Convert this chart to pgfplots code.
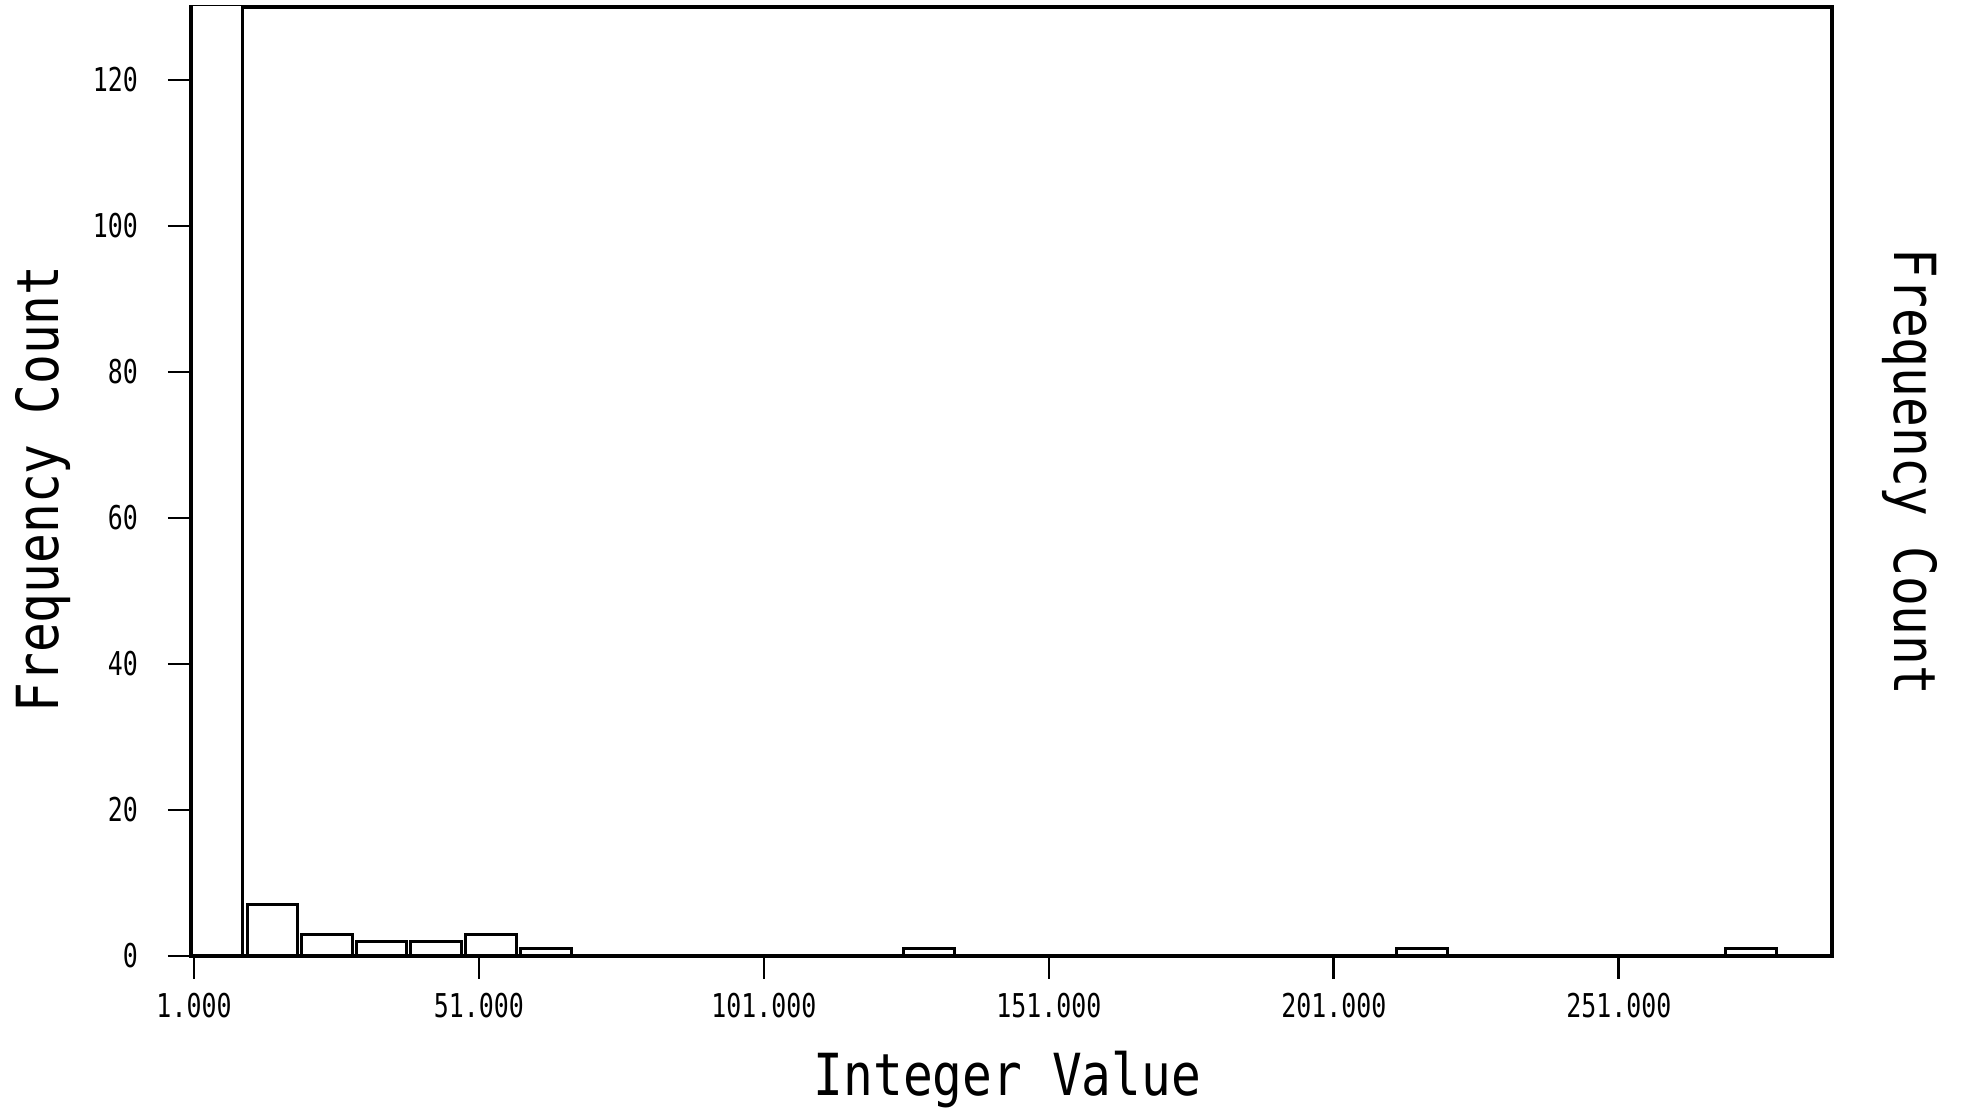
\documentclass[border=0pt]{standalone}
\usepackage{fontspec}
\usepackage{pgfplots}
\pgfplotsset{compat=1.18}
\newfontfamily\labfont[FakeStretch=0.853]{DejaVu Sans Mono}
\newfontfamily\tickfont[FakeStretch=0.76]{DejaVu Sans Mono}
\begin{document}
\begin{tikzpicture}
\useasboundingbox (-47.75pt,-38.5pt) rectangle (442.5pt,239pt);
\begin{axis}[
  at={(0,0)}, anchor=south west,
  scale only axis, width=410.25pt, height=237.25pt,
  xmin=0.47, xmax=288.4, ymin=0, ymax=130,
  axis line style={line width=0.8pt, black},
  xtick={1,51,101,151,201,251},
  xticklabels={1.000,51.000,101.000,151.000,201.000,251.000},
  ytick={0,20,40,60,80,100,120},
  yticklabels={0,20,40,60,80,100,120},
  tick align=outside, xtick pos=bottom, ytick pos=left,
  major tick length=5.75pt,
  tick style={line width=0.7pt, black},
  tick label style={font=\tickfont\fontsize{8.2}{9}\selectfont},
  yticklabel style={xshift=-4pt},
  ybar, bar width=8.9, bar shift=0pt,
]
\addplot[ybar, fill=white, draw=black, line width=0.75pt] coordinates {
(5.04,300) (14.75,7) (24.30,3) (33.90,2) (43.50,2) (53.11,3) (62.72,1)
(130.0,1) (216.5,1) (274.2,1)
};
\end{axis}
\node[rotate=90, anchor=north, inner sep=0pt, font=\labfont\fontsize{14.5}{16}\selectfont] at (-44pt,116.75pt) {Frequency Count};
\node[rotate=-90, anchor=north, inner sep=0pt, font=\labfont\fontsize{14.5}{16}\selectfont] at (436.75pt,121pt) {Frequency Count};
\node[anchor=north, inner sep=0pt, font=\labfont\fontsize{14.5}{16}\selectfont] at (204.1pt,-23.5pt) {Integer Value};
\end{tikzpicture}
\end{document}
